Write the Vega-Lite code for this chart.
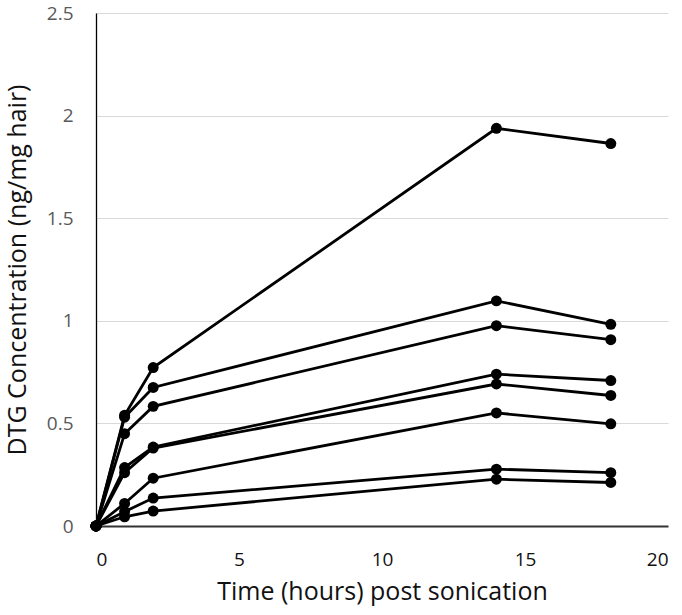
{
  "$schema": "https://vega.github.io/schema/vega-lite/v6.json",
  "autosize": "none",
  "width": 572,
  "height": 513,
  "padding": {"left": 96, "top": 13, "right": 14, "bottom": 89},
  "background": "white",
  "config": {"view": {"stroke": null}, "font": "Open Sans"},
  "data": {"values": [
    {"s": "A", "t": 0, "c": 0}, {"s": "A", "t": 1, "c": 0.54}, {"s": "A", "t": 2, "c": 0.772}, {"s": "A", "t": 14, "c": 1.938}, {"s": "A", "t": 18, "c": 1.864},
    {"s": "B", "t": 0, "c": 0}, {"s": "B", "t": 1, "c": 0.53}, {"s": "B", "t": 2, "c": 0.675}, {"s": "B", "t": 14, "c": 1.097}, {"s": "B", "t": 18, "c": 0.983},
    {"s": "C", "t": 0, "c": 0}, {"s": "C", "t": 1, "c": 0.45}, {"s": "C", "t": 2, "c": 0.583}, {"s": "C", "t": 14, "c": 0.976}, {"s": "C", "t": 18, "c": 0.908},
    {"s": "D", "t": 0, "c": 0}, {"s": "D", "t": 1, "c": 0.285}, {"s": "D", "t": 2, "c": 0.385}, {"s": "D", "t": 14, "c": 0.74}, {"s": "D", "t": 18, "c": 0.709},
    {"s": "E", "t": 0, "c": 0}, {"s": "E", "t": 1, "c": 0.26}, {"s": "E", "t": 2, "c": 0.38}, {"s": "E", "t": 14, "c": 0.692}, {"s": "E", "t": 18, "c": 0.636},
    {"s": "F", "t": 0, "c": 0}, {"s": "F", "t": 1, "c": 0.11}, {"s": "F", "t": 2, "c": 0.233}, {"s": "F", "t": 14, "c": 0.551}, {"s": "F", "t": 18, "c": 0.498},
    {"s": "G", "t": 0, "c": 0}, {"s": "G", "t": 1, "c": 0.07}, {"s": "G", "t": 2, "c": 0.136}, {"s": "G", "t": 14, "c": 0.277}, {"s": "G", "t": 18, "c": 0.26},
    {"s": "H", "t": 0, "c": 0}, {"s": "H", "t": 1, "c": 0.045}, {"s": "H", "t": 2, "c": 0.073}, {"s": "H", "t": 14, "c": 0.228}, {"s": "H", "t": 18, "c": 0.212}
  ]},
  "encoding": {
    "x": {"field": "t", "type": "quantitative", "scale": {"domain": [0, 20], "nice": false},
      "axis": {"values": [0, 5, 10, 15, 20], "format": "~g", "title": "Time (hours) post sonication", "grid": false, "ticks": false,
        "domainColor": "#333333", "domainWidth": 2, "labelFontSize": 19, "labelColor": "#111111", "labelPadding": 24,
        "titleFontSize": 25, "titleFontWeight": "normal", "titleColor": "#111111", "titlePadding": 10}},
    "y": {"field": "c", "type": "quantitative", "scale": {"domain": [0, 2.5], "nice": false},
      "axis": {"values": [0, 0.5, 1, 1.5, 2, 2.5], "format": "~g", "title": "DTG Concentration (ng/mg hair)", "grid": true, "gridColor": "#d9d9d9", "gridWidth": 1.2, "ticks": false,
        "domainColor": "black", "domainWidth": 1.3, "labelFontSize": 19, "labelColor": "#595959", "labelPadding": 23,
        "titleFontSize": 25, "titleFontWeight": "normal", "titleColor": "#111111", "titlePadding": 16}},
    "detail": {"field": "s"}
  },
  "layer": [
    {"mark": {"type": "line", "color": "black", "strokeWidth": 2.8}},
    {"mark": {"type": "point", "filled": true, "color": "black", "opacity": 1, "size": 120}}
  ]
}
